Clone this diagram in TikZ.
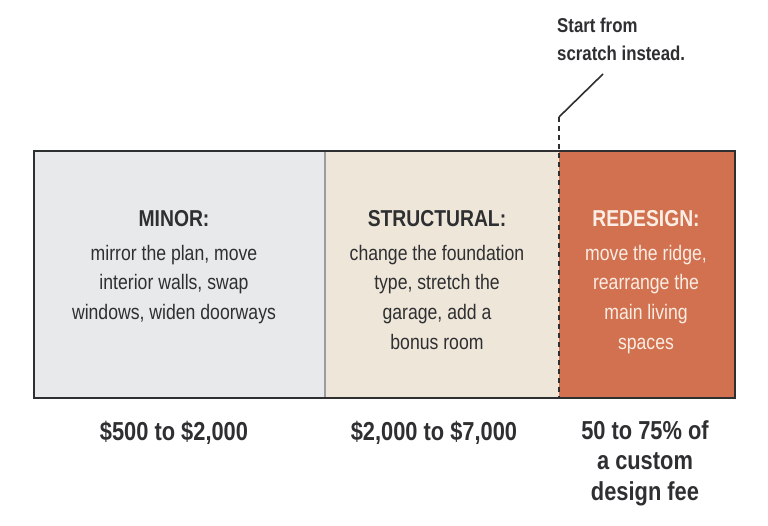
\documentclass[tikz,border=0pt]{standalone}
\usepackage{fontspec}
\setmainfont[FakeStretch=0.84]{Liberation Sans}
\definecolor{ink}{HTML}{2E2F31}
\definecolor{minorfill}{HTML}{E8E9EA}
\definecolor{structfill}{HTML}{EFE6DA}
\definecolor{redfill}{HTML}{D17150}
\definecolor{redtext}{HTML}{FBEDE3}
\definecolor{divgray}{HTML}{9A9C9F}
\tikzset{
  head/.style={anchor=base, inner sep=0pt, font=\fontsize{23}{26}\selectfont\bfseries},
  body/.style={anchor=base, inner sep=0pt, align=center, font=\fontsize{21}{29.7}\selectfont},
  cost/.style={anchor=base, inner sep=0pt, align=center, text=ink, font=\fontsize{26}{30.5}\selectfont\bfseries},
  note/.style={anchor=base west, inner sep=0pt, align=left, text=ink, font=\fontsize{20}{28}\selectfont\bfseries},
}
\begin{document}
\begin{tikzpicture}[x=1pt,y=-1pt]
\useasboundingbox[fill=white] (0,0) rectangle (768,525);
% panels
\fill[minorfill] (34,151) rectangle (325,398);
\fill[structfill] (325,151) rectangle (559,398);
\fill[redfill] (559,151) rectangle (735,398);
\draw[divgray, line width=1.2pt] (325,151) -- (325,398);
\coordinate (dtop) at (559,117);
\coordinate (dbot) at (559,398);
\coordinate (lend) at (603,74);
\draw[ink, line width=1.3pt, dash pattern=on 5pt off 4pt] (dtop) -- (dbot);
\draw[ink, line width=1.6pt] (dtop) -- (lend);
\draw[ink, line width=2pt] (34,151) rectangle (735,398);
% texts (base anchor = baseline of last line)
\node[head, text=ink] (h1) at (174,226) {MINOR:};
\node[body, text=ink] (b1) at (174,319.4) {mirror the plan, move\\interior walls, swap\\windows, widen doorways};
\node[head, text=ink] (h2) at (437,226) {STRUCTURAL:};
\node[body, text=ink] (b2) at (437,349.1) {change the foundation\\type, stretch the\\garage, add a\\bonus room};
\node[head, text=redtext] (h3) at (646,226) {REDESIGN:};
\node[body, text=redtext] (b3) at (646,349.1) {move the ridge,\\rearrange the\\main living\\spaces};
\node[cost] (c1) at (174,440) {\$500 to \$2,000};
\node[cost] (c2) at (434,440) {\$2,000 to \$7,000};
\node[cost] (c3) at (645,500) {50 to 75\% of\\a custom\\design fee};
\node[note] (n1) at (557,60) {Start from\\scratch instead.};
\end{tikzpicture}
\end{document}
